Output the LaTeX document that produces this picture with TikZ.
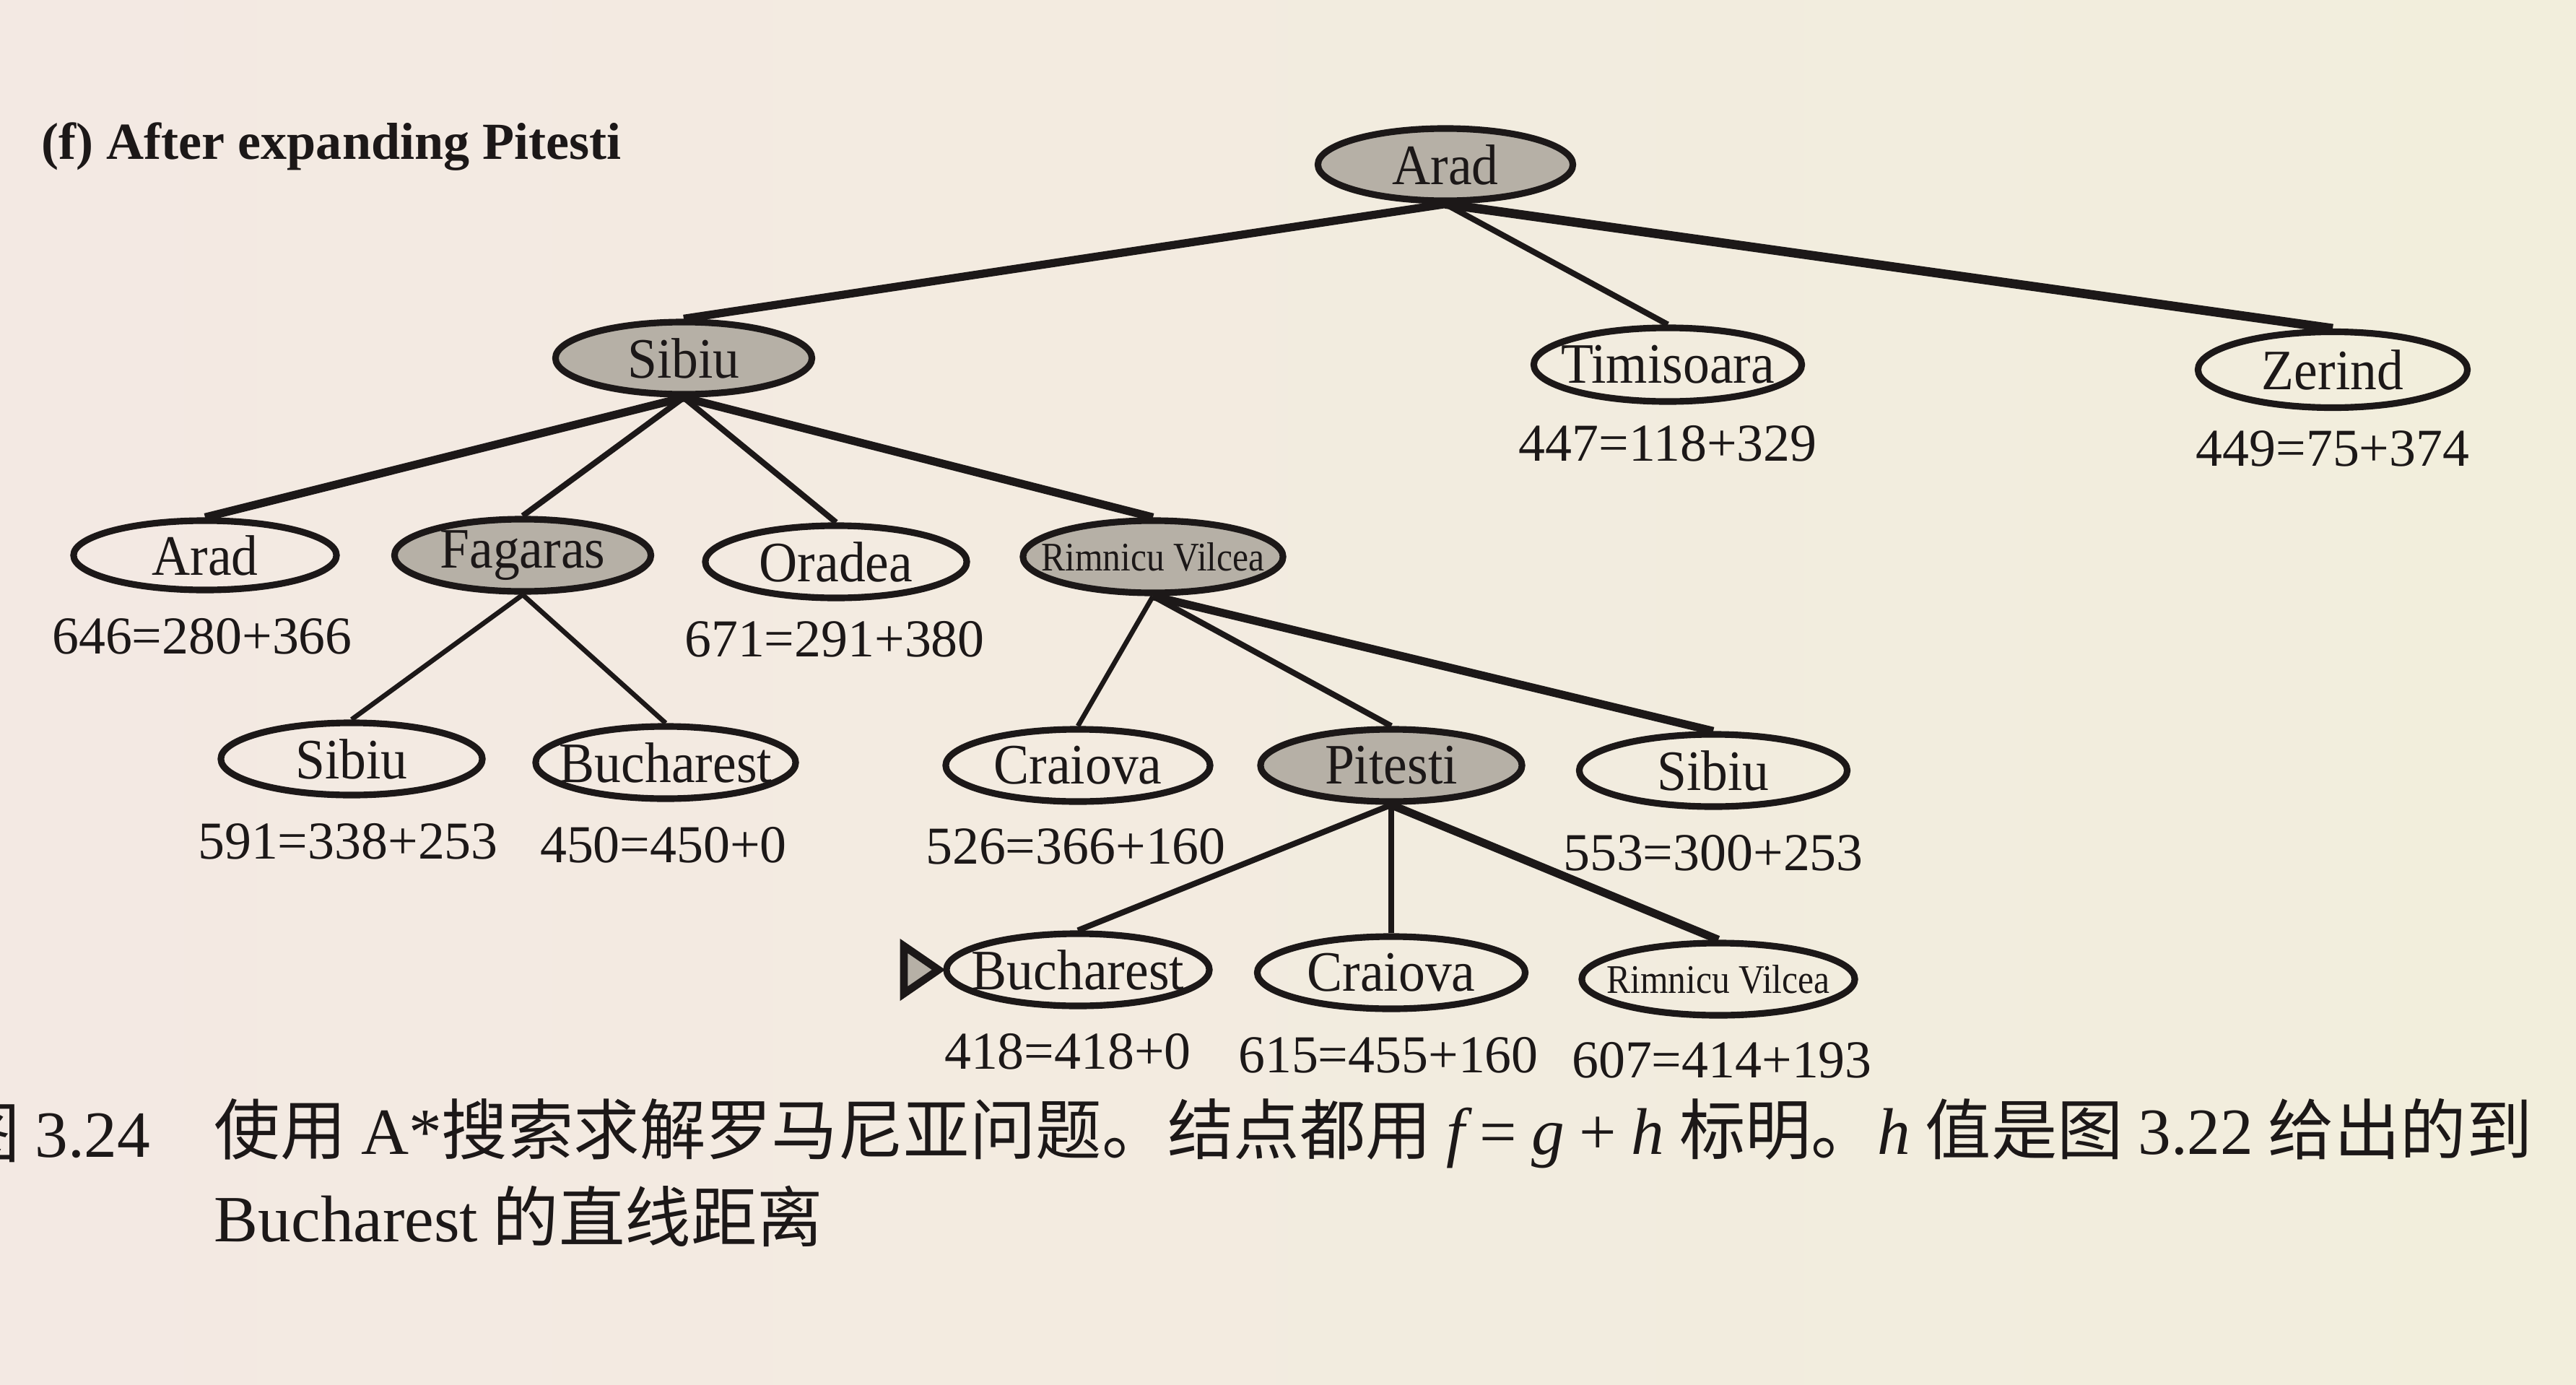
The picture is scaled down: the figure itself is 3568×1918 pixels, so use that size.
\documentclass[tikz,border=0pt]{standalone}
\usepackage{fontspec}
\setmainfont{Liberation Serif}
\newfontfamily\cjk{Noto Sans CJK SC}
\newfontfamily\nodefont{Liberation Serif}[FakeStretch=0.93]
\newfontfamily\nodefontsmall{Liberation Serif}[FakeStretch=0.88]
\usetikzlibrary{shapes.geometric}
\definecolor{paperL}{RGB}{243,233,227}
\definecolor{paperR}{RGB}{242,238,220}
\definecolor{ink}{RGB}{28,24,24}
\definecolor{shadefill}{RGB}{182,176,166}
\begin{document}
\begin{tikzpicture}[x=0.01cm,y=-0.01cm,
  every label/.style={inner sep=0pt, text=ink, font=\nodefont\fontsize{22.5}{24}\selectfont},
  city/.style={ellipse, draw=ink, line width=2.6pt, inner sep=0pt,
    minimum height=1.0cm, minimum width=3.6cm},
  visited/.style={city, fill=shadefill},
  smalltext/.style={font=\nodefontsmall\fontsize{16}{17}\selectfont},
  fval/.style={inner sep=0pt, text=ink, font=\fontsize{21}{23}\selectfont},
  thinedge/.style={draw=ink, line width=1.9pt},
  edge/.style={draw=ink, line width=2.3pt},
  thickedge/.style={draw=ink, line width=3.2pt},
  captext/.style={inner sep=0pt, text=ink, font=\fontsize{26}{30}\selectfont\cjk}]
% background paper
\shade[left color=paperL, right color=paperR] (0,0) rectangle (3568,1918);
\useasboundingbox (0,0) rectangle (3568,1918);

% title
\node[anchor=west, inner sep=0pt, text=ink, font=\fontsize{20.5}{24}\selectfont\bfseries] (title) at (57,203) {(f) After expanding Pitesti};

% level 0
\node[visited, minimum width=3.53cm, label=center:Arad] (arad0) at (2002,228) {};
% level 1
\node[visited, minimum width=3.55cm, label=center:Sibiu] (sibiu1) at (947,496) {};
\node[city, minimum width=3.71cm, minimum height=1.02cm, label=center:Timisoara] (timi) at (2310,505) {};
\node[city, minimum width=3.73cm, minimum height=1.05cm, label=center:Zerind] (zerind) at (3231,512) {};
\node[fval] (ftimi) at (2310,614) {447=118+329};
\node[fval] (fzer) at (3231,621) {449=75+374};
% level 2
\node[city, minimum width=3.64cm, minimum height=0.96cm, label=center:Arad] (arad2) at (284,769) {};
\node[visited, minimum width=3.55cm, label=center:Fagaras] (fag) at (724,769) {};
\node[city, minimum width=3.62cm, label=center:Oradea] (orad) at (1158,778) {};
\node[visited, minimum width=3.6cm, label={[smalltext]center:Rimnicu Vilcea}] (rv) at (1597,771) {};
\node[fval] (farad2) at (280,881) {646=280+366};
\node[fval] (forad) at (1156,885) {671=291+380};
% level 3
\node[city, minimum width=3.62cm, label=center:Sibiu] (sib3) at (487,1051) {};
\node[city, minimum width=3.6cm, label=center:Bucharest] (buc3) at (922,1056) {};
\node[fval] (fsib3) at (482,1165) {591=338+253};
\node[fval] (fbuc3) at (919,1170) {450=450+0};
\node[city, minimum width=3.66cm, label=center:Craiova] (cra3) at (1493,1060) {};
\node[visited, minimum width=3.62cm, label=center:Pitesti] (pit) at (1927,1060) {};
\node[city, minimum width=3.71cm, label=center:Sibiu] (sib3b) at (2373,1067) {};
\node[fval] (fcra3) at (1490,1172) {526=366+160};
\node[fval] (fsib3b) at (2373,1181) {553=300+253};
% level 4
\node[city, minimum width=3.64cm, label=center:Bucharest] (buc4) at (1493,1343) {};
\node[city, minimum width=3.71cm, label=center:Craiova] (cra4) at (1927,1347) {};
\node[city, minimum width=3.78cm, label={[smalltext]center:Rimnicu Vilcea}] (rv4) at (2380,1356) {};
\node[fval] (fbuc4) at (1479,1456) {418=418+0};
\node[fval] (fcra4) at (1923,1461) {615=455+160};
\node[fval] (frv4) at (2385,1468) {607=414+193};

% goal marker
\coordinate (tipA) at (1252,1310);
\coordinate (tipB) at (1252,1376);
\coordinate (tipC) at (1300,1343);
\draw[draw=ink, fill=shadefill, line width=3pt, line join=miter] (tipA) -- (tipB) -- (tipC) -- cycle;

% edges
\draw[thickedge] (arad0.south) -- (sibiu1.north);
\draw[edge] (arad0.south) -- (timi.north);
\draw[thickedge, line width=3.6pt] (arad0.south) -- (zerind.north);
\draw[thickedge] (sibiu1.south) -- (arad2.north);
\draw[edge] (sibiu1.south) -- (fag.north);
\draw[edge] (sibiu1.south) -- (orad.north);
\draw[thickedge] (sibiu1.south) -- (rv.north);
\draw[thinedge] (fag.south) -- (sib3.north);
\draw[thinedge] (fag.south) -- (buc3.north);
\draw[thinedge] (rv.south) -- (cra3.north);
\draw[edge] (rv.south) -- (pit.north);
\draw[thickedge] (rv.south) -- (sib3b.north);
\draw[edge] (pit.south) -- (buc4.north);
\draw[edge] (pit.south) -- (cra4.north);
\draw[thickedge] (pit.south) -- (rv4.north);

% caption
\node[captext, anchor=east] (capnum) at (209,1570) {图 {\fontspec{Liberation Serif}3.24}};
\node[captext, anchor=west] (cap1) at (296,1570) {使用 {\fontspec{Liberation Serif}A*}搜索求解罗马尼亚问题。结点都用 {\fontspec{Liberation Serif}\itshape f} {\fontspec{Liberation Serif}=} {\fontspec{Liberation Serif}\itshape g} {\fontspec{Liberation Serif}+} {\fontspec{Liberation Serif}\itshape h} 标明。{\fontspec{Liberation Serif}\itshape h} 值是图 {\fontspec{Liberation Serif}3.22} 给出的到};
\node[captext, anchor=west] (cap2) at (296,1684) {{\fontspec{Liberation Serif}Bucharest} 的直线距离};
\end{tikzpicture}
\end{document}
